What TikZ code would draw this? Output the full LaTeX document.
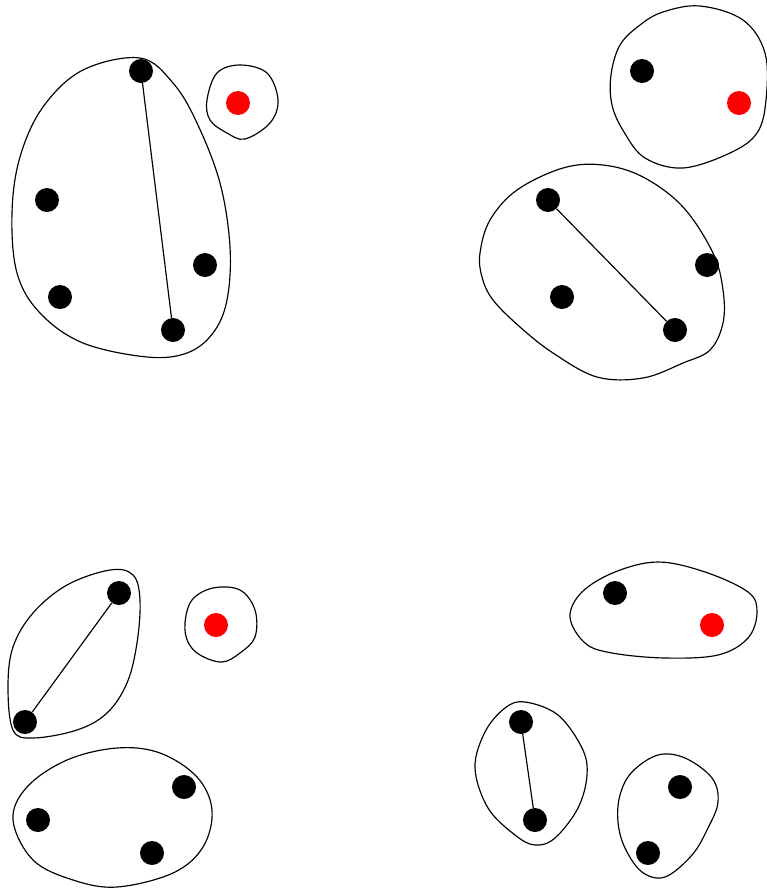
\documentclass[tikz,border=0pt]{standalone}
\usepackage{tikz}
\usetikzlibrary{positioning}

\begin{document}
\begin{tikzpicture}[
      x=0.03cm, y=-0.03cm,
      dot/.style  = {circle, fill=black, inner sep=0pt, minimum size=0.72cm},
      rdot/.style = {dot, fill=red},
      blob/.style = {draw, line width=1pt, smooth cycle, tension=0.6},
      link/.style = {draw, line width=1pt},
    ]
    \useasboundingbox (0,0) rectangle (767,889);
    %% ── Panel oben links ───────────────────────────────────────
    \node[dot]  (a1) at (141,71)  {};
    \node[dot]  (a2) at (47,200)  {};
    \node[dot]  (a3) at (60,297)  {};
    \node[dot]  (a4) at (173,330) {};
    \node[dot]  (a5) at (205,265) {};
    \node[rdot] (ar) at (238,103) {};
    \draw[link] (a1) -- (a4);
    \draw[blob] plot coordinates {(140,58) (173,83) (197,123) (220,183)
      (230,247) (227,300) (213,333) (187,353) (147,357) (83,343) (40,313)
      (17,273) (12,213) (20,157) (43,107) (83,70)};
    \draw[blob] plot coordinates {(217,73) (240,65) (267,73) (278,100)
      (270,123) (245,139) (227,133) (210,120) (207,100)};
    %% ── Panel oben rechts ──────────────────────────────────────
    \node[dot]  (b1) at (642,71)  {};
    \node[rdot] (br) at (739,103) {};
    \node[dot]  (b2) at (548,200) {};
    \node[dot]  (b3) at (562,297) {};
    \node[dot]  (b4) at (675,330) {};
    \node[dot]  (b5) at (707,265) {};
    \draw[link] (b2) -- (b4);
    \draw[blob] plot coordinates {(612,105) (611,75) (620,45) (640,25)
      (663,12) (700,6) (743,20) (765,53) (766,100) (757,133) (730,153)
      (683,168) (645,158) (624,132)};
    \draw[blob] plot coordinates {(480,253) (490,220) (517,190) (563,168)
      (603,165) (643,177) (683,207) (713,253) (723,290) (723,323) (710,350)
      (683,363) (643,378) (597,377) (553,353) (520,327) (493,300) (482,277)};
    %% ── Panel unten links ──────────────────────────────────────
    \node[dot]  (c1) at (119,593) {};
    \node[dot]  (c2) at (25,722)  {};
    \node[rdot] (cr) at (216,625) {};
    \node[dot]  (c3) at (38,820)  {};
    \node[dot]  (c4) at (184,787) {};
    \node[dot]  (c5) at (152,853) {};
    \draw[link] (c1) -- (c2);
    \draw[blob] plot coordinates {(8,687) (13,647) (33,613) (67,585)
      (110,570) (133,575) (140,600) (137,643) (127,683) (107,713) (77,730)
      (33,738) (13,730)};
    \draw[blob] plot coordinates {(185,623) (192,600) (213,588) (240,590)
      (255,610) (255,637) (240,653) (222,662) (200,655) (188,642)};
    \draw[blob] plot coordinates {(13,820) (27,787) (67,760) (117,748)
      (160,753) (197,777) (212,810) (203,847) (173,873) (117,887) (73,880)
      (33,860)};
    %% ── Panel unten rechts ─────────────────────────────────────
    \node[dot]  (d1) at (615,593) {};
    \node[rdot] (dr) at (712,625) {};
    \node[dot]  (d2) at (521,722) {};
    \node[dot]  (d3) at (535,820) {};
    \node[dot]  (d4) at (680,787) {};
    \node[dot]  (d5) at (648,853) {};
    \draw[link] (d2) -- (d3);
    \draw[blob] plot coordinates {(570,617) (582,592) (615,572) (658,562)
      (705,572) (748,592) (757,612) (748,638) (718,655) (665,658) (612,653)
      (585,643)};
    \draw[blob] plot coordinates {(475,768) (485,732) (505,708) (525,702)
      (558,715) (582,748) (587,775) (578,808) (555,838) (535,845) (515,835)
      (488,808)};
    \draw[blob] plot coordinates {(620,795) (632,772) (658,755) (685,758)
      (712,778) (718,802) (708,828) (692,855) (665,877) (642,872) (625,848)
      (618,822)};
  \end{tikzpicture}
\end{document}
